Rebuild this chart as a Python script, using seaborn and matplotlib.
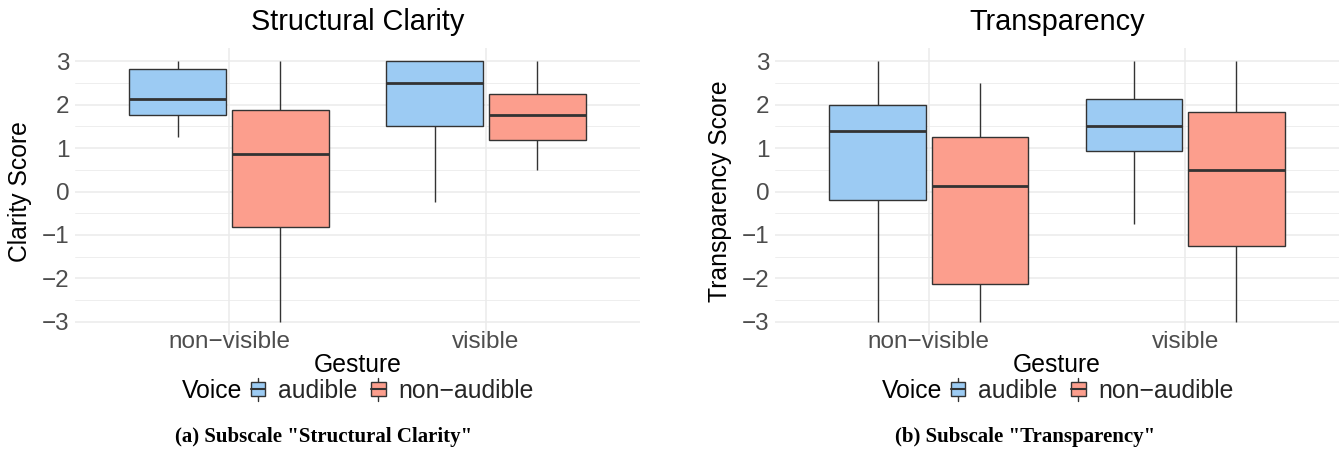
import numpy as np
import pandas as pd
import matplotlib
matplotlib.use("Agg")
import matplotlib.pyplot as plt
import seaborn as sns
from matplotlib.patches import Rectangle, Patch
from matplotlib.lines import Line2D
from matplotlib.legend_handler import HandlerBase

# ---------------- data ----------------
gestures = ["non\u2212visible", "visible"]
voices = ["audible", "non\u2212audible"]
yticks = [-3, -2, -1, 0, 1, 2, 3]
ytick_labels = ["\u22123", "\u22122", "\u22121", "0", "1", "2", "3"]

# five-number summaries:
# [lower whisker, Q1, median, Q3, upper whisker]
clarity_nonvisible_audible = [1.25, 1.75, 2.12, 2.82, 3.0]
clarity_nonvisible_nonaudible = [-3.0, -0.81, 0.87, 1.88, 3.0]
clarity_visible_audible = [-0.25, 1.5, 2.5, 3.0, 3.0]
clarity_visible_nonaudible = [0.5, 1.19, 1.75, 2.25, 3.0]

transp_nonvisible_audible = [-3.0, -0.2, 1.38, 2.0, 3.0]
transp_nonvisible_nonaudible = [-3.0, -2.12, 0.13, 1.25, 2.5]
transp_visible_audible = [-0.75, 0.94, 1.5, 2.12, 3.0]
transp_visible_nonaudible = [-3.0, -1.25, 0.5, 1.82, 3.0]

titles = ["Structural Clarity", "Transparency"]
ylabels = ["Clarity Score", "Transparency Score"]
captions = ['(a) Subscale "Structural Clarity"', '(b) Subscale "Transparency"']

palette = {"audible": "#9CCBF3", "non\u2212audible": "#FC9E8D"}
EDGE = "#333333"


def make_df(groups):
    rows = []
    for (g, v), vals in groups.items():
        for s in vals:
            rows.append({"Gesture": g, "Voice": v, "Score": s})
    return pd.DataFrame(rows)


df_clarity = make_df({
    (gestures[0], voices[0]): clarity_nonvisible_audible,
    (gestures[0], voices[1]): clarity_nonvisible_nonaudible,
    (gestures[1], voices[0]): clarity_visible_audible,
    (gestures[1], voices[1]): clarity_visible_nonaudible,
})
df_transp = make_df({
    (gestures[0], voices[0]): transp_nonvisible_audible,
    (gestures[0], voices[1]): transp_nonvisible_nonaudible,
    (gestures[1], voices[0]): transp_visible_audible,
    (gestures[1], voices[1]): transp_visible_nonaudible,
})


class BoxKey(HandlerBase):
    def create_artists(self, legend, orig_handle, xdescent, ydescent,
                       width, height, fontsize, trans):
        fc = orig_handle.get_facecolor()
        x0, y0 = -xdescent, -ydescent
        cx = x0 + width / 2
        wl = Line2D([cx, cx], [y0 - 0.2 * height, y0 + 1.2 * height],
                    color=EDGE, lw=1.0, transform=trans)
        box = Rectangle((x0, y0 + 0.08 * height), width, 0.84 * height,
                        facecolor=fc, edgecolor=EDGE, lw=1.0, transform=trans)
        med = Line2D([x0, x0 + width], [y0 + 0.5 * height] * 2,
                     color=EDGE, lw=1.5, transform=trans)
        return [wl, box, med]


sns.set_theme(style="white")
plt.rcParams["font.family"] = ["Liberation Sans", "DejaVu Sans"]

W, H = 1344, 453
fig = plt.figure(figsize=(W / 100, H / 100), dpi=100)


def fx(px):
    return px / W


def fy(py):
    return 1 - py / H


TICK_FS = 17.5
LAB_FS = 17.8
TITLE_FS = 20.8

for i, df in enumerate([df_clarity, df_transp]):
    off = 700 * i
    ax_left, ax_right, ax_top, ax_bot = 75 + off, 640 + off - (1 if i else 0), 48, 335
    ax = fig.add_axes([fx(ax_left), fy(ax_bot), fx(ax_right - ax_left), (ax_bot - ax_top) / H])

    # grid
    for y in yticks:
        ax.axhline(y, color="#EBEBEB", lw=1.1, zorder=0)
    for y in [-2.5, -1.5, -0.5, 0.5, 1.5, 2.5]:
        ax.axhline(y, color="#EBEBEB", lw=0.6, zorder=0)
    for x in range(len(gestures)):
        ax.axvline(x, color="#EBEBEB", lw=1.1, zorder=0)

    sns.boxplot(data=df, x="Gesture", y="Score", hue="Voice",
                order=gestures, hue_order=voices, palette=palette,
                saturation=1, width=0.8, gap=0.06, linewidth=1.0,
                linecolor=EDGE, showcaps=False, showfliers=False,
                medianprops={"linewidth": 2.0, "color": EDGE},
                legend=False, ax=ax, zorder=2)

    ax.set_xlim(-0.6, 1.6)
    ax.set_ylim(-3.3, 3.3)
    ax.set_yticks(yticks)
    ax.set_yticklabels(ytick_labels)
    ax.set_xticks(range(len(gestures)))
    ax.set_xticklabels(gestures)
    ax.set_xlabel("")
    ax.set_ylabel("")
    for s in ax.spines.values():
        s.set_visible(False)
    ax.tick_params(axis="both", length=0, labelsize=TICK_FS, labelcolor="#4D4D4D")
    ax.tick_params(axis="y", pad=4)
    ax.tick_params(axis="x", pad=-3)
    ax.set_facecolor("none")

    cx = (ax_left + ax_right) / 2
    fig.text(fx(cx), fy(22), titles[i], ha="center", va="center",
             fontsize=TITLE_FS, color="black")
    fig.text(fx(20 + off), fy((ax_top + ax_bot) / 2), ylabels[i], rotation=90,
             ha="center", va="center", fontsize=LAB_FS, color="black")
    fig.text(fx(cx), fy(365), "Gesture", ha="center", va="center",
             fontsize=LAB_FS, color="black")

    # legend
    fig.text(fx(242 + off), fy(391), "Voice", ha="right", va="center",
             fontsize=LAB_FS, color="black")
    handles = [Patch(facecolor=palette[v]) for v in voices]
    ax.legend(handles=handles, labels=voices, handler_map={Patch: BoxKey()},
              ncol=2, frameon=False, loc="center",
              bbox_to_anchor=(fx(392 + off), fy(391)),
              bbox_transform=fig.transFigure,
              handlelength=0.6, handleheight=0.65, handletextpad=0.5,
              columnspacing=0.55, borderpad=0, borderaxespad=0,
              fontsize=LAB_FS)

    cap_x = [324, 1025][i]
    fig.text(fx(cap_x), fy(437), captions[i], ha="center", va="center",
             fontsize=15, fontweight="bold", family=["Liberation Serif", "DejaVu Serif"],
             color="black")

fig.savefig("out.png", dpi=100)
